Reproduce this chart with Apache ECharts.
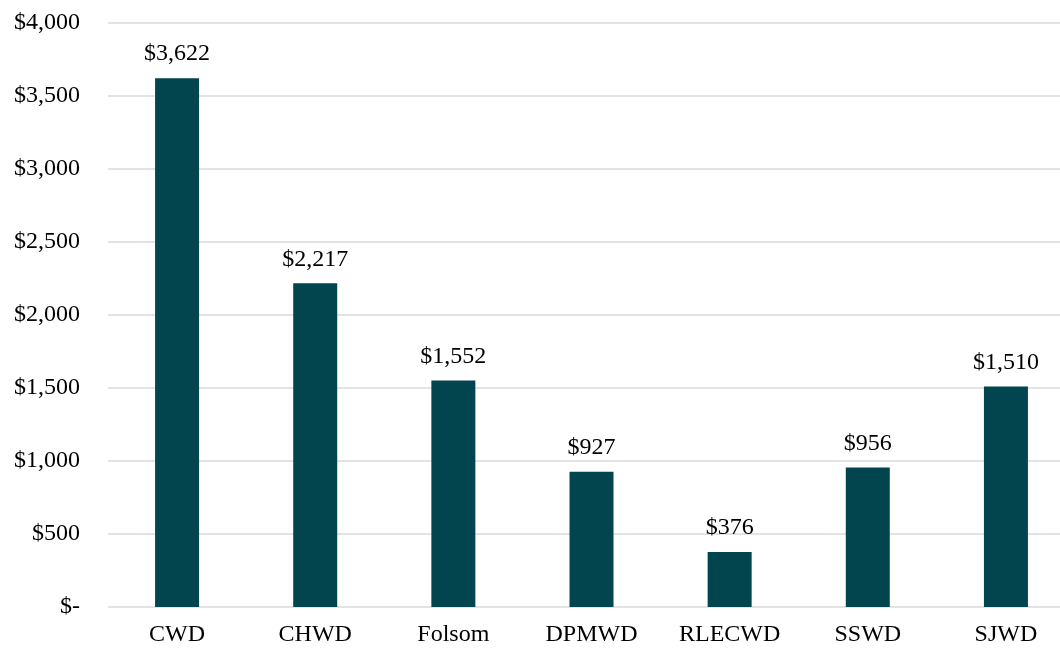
<!DOCTYPE html>
<html>
<head>
<meta charset="utf-8">
<script src="https://cdn.jsdelivr.net/npm/echarts@6/dist/echarts.min.js"></script>
<style>
  html, body { margin: 0; padding: 0; background: #ffffff; }
  #chart { width: 1060px; height: 648px; }
</style>
</head>
<body>
<div id="chart"></div>
<script>
const categories = ['CWD', 'CHWD', 'Folsom', 'DPMWD', 'RLECWD', 'SSWD', 'SJWD']
const values = [3622, 2217, 1552, 927, 376, 956, 1510]

const money = (v) => (v === 0 ? '$-' : '$' + v.toLocaleString('en-US'))
const serif = '"Liberation Serif", "Times New Roman", serif'

const myChart = echarts.init(document.getElementById('chart'))
const option = {
  animation: false,
  textStyle: { fontFamily: serif },
  grid: {
    left: 108,
    top: 23,
    right: -15,
    bottom: 41,
    outerBoundsMode: 'none'
  },
  xAxis: {
    type: 'category',
    data: categories,
    axisTick: { show: false },
    axisLine: { show: false },
    axisLabel: {
      margin: 16,
      fontSize: 24,
      color: '#000000',
      fontFamily: serif
    }
  },
  yAxis: {
    type: 'value',
    min: 0,
    max: 4000,
    interval: 500,
    axisTick: { show: false },
    axisLine: { show: false },
    splitLine: {
      lineStyle: { color: '#e3e3e3', width: 2 }
    },
    axisLabel: {
      margin: 28,
      fontSize: 24,
      color: '#000000',
      fontFamily: serif,
      formatter: (v) => money(v)
    }
  },
  series: [
    {
      type: 'bar',
      data: values,
      barWidth: 44,
      itemStyle: { color: '#03454F' },
      label: {
        show: true,
        position: 'top',
        distance: 12,
        fontSize: 24,
        color: '#000000',
        fontFamily: serif,
        formatter: (p) => money(p.value)
      }
    }
  ]
}
myChart.setOption(option)
</script>
</body>
</html>
